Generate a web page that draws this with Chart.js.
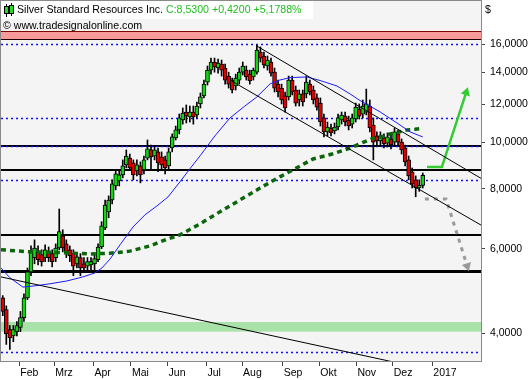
<!DOCTYPE html>
<html>
<head>
<meta charset="utf-8">
<script src="https://cdn.jsdelivr.net/npm/chart.js@4.4.1/dist/chart.umd.min.js"></script>
<style>
  html, body { margin: 0; padding: 0; background: #fff; }
  canvas { display: block; }
</style>
</head>
<body>
<canvas id="chart" width="531" height="380"></canvas>
<script>
// Kopfzeile
const titleText = 'Silver Standard Resources Inc.';
const quoteText = 'C:8,5300 +0,4200 +5,1788%';
const sourceText = '© www.tradesignalonline.com';

// Kerzen (je 2 Handelstage), Index 0 = Mitte Januar 2016
const opens = [4.74, 4.48, 4.07, 3.95, 4.03, 4.11, 4.31, 4.74, 5.37, 5.75,
  5.91, 5.83, 5.75, 5.91, 5.86, 5.75, 6.02, 6.38, 6.14, 5.97,
  5.86, 5.58, 5.75, 5.58, 5.52, 5.55, 5.58, 5.69, 6.05, 6.63,
  7.16, 7.58, 8.11, 8.31, 8.55, 8.97, 9.27, 9.06, 8.72, 8.93,
  8.76, 9.27, 9.64, 9.36, 9.55, 9.32, 9.19, 8.93, 9.73, 10.21,
  10.61, 11.13, 11.56, 11.29, 11.56, 11.40, 12.02, 12.49, 13.35, 14.14,
  14.70, 14.28, 14.56, 14.28, 13.74, 13.48, 13.10, 13.48, 14.00, 14.14,
  13.87, 13.68, 14.00, 15.42, 15.13, 14.42, 14.70, 14.00, 13.22, 12.97,
  12.49, 12.43, 13.48, 12.85, 12.25, 12.61, 12.61, 13.22, 12.85, 12.37,
  12.07, 11.24, 10.51, 10.71, 10.56, 10.76, 11.13, 11.34, 11.13, 10.91,
  11.18, 11.73, 11.45, 11.56, 11.90, 10.86, 10.31, 10.06, 10.21, 9.96,
  10.16, 10.01, 10.41, 10.01, 9.73, 9.19, 8.68, 8.35, 8.03, 8.13];
const highs = [4.79, 4.56, 4.15, 4.15, 4.23, 4.44, 4.83, 5.47, 6.08, 6.26,
  6.08, 5.97, 6.11, 6.05, 5.97, 6.14, 7.26, 6.57, 6.26, 6.08,
  5.97, 5.88, 5.86, 5.75, 5.75, 5.75, 5.83, 6.14, 6.83, 7.58,
  7.73, 8.35, 8.76, 8.76, 9.19, 9.64, 9.45, 9.19, 9.19, 9.10,
  9.36, 10.11, 9.87, 9.82, 9.73, 9.55, 9.36, 9.73, 10.41, 10.81,
  11.45, 11.79, 11.96, 11.90, 11.90, 12.13, 12.67, 13.48, 14.42, 14.98,
  14.98, 14.91, 14.84, 14.56, 14.00, 13.61, 13.87, 14.28, 14.70, 14.42,
  14.14, 14.28, 15.95, 15.80, 15.42, 15.13, 14.98, 14.28, 13.48, 13.22,
  12.73, 13.74, 13.74, 13.10, 12.85, 12.85, 13.74, 13.48, 13.10, 12.61,
  12.37, 11.45, 11.02, 10.91, 10.97, 11.45, 11.56, 11.56, 11.34, 11.45,
  12.07, 12.02, 12.25, 12.91, 12.25, 11.24, 10.51, 10.51, 10.41, 10.46,
  10.41, 10.71, 10.61, 10.16, 9.87, 9.36, 8.84, 8.51, 8.35, 8.63];
const lows = [4.35, 3.79, 3.70, 3.84, 3.95, 4.03, 4.23, 4.70, 5.27, 5.58,
  5.55, 5.52, 5.64, 5.64, 5.50, 5.64, 5.97, 5.91, 5.75, 5.64,
  5.27, 5.47, 5.27, 5.37, 5.37, 5.42, 5.37, 5.64, 6.00, 6.57,
  6.96, 7.44, 7.96, 8.11, 8.43, 8.84, 8.76, 8.35, 8.51, 8.23,
  8.59, 9.19, 8.76, 9.19, 8.68, 8.76, 8.59, 8.80, 9.55, 10.11,
  10.41, 10.91, 10.97, 11.02, 10.91, 11.24, 11.79, 12.37, 13.16, 13.87,
  14.00, 13.94, 13.74, 13.22, 12.97, 12.67, 12.85, 13.22, 13.81, 13.48,
  13.22, 13.48, 13.87, 14.70, 14.28, 14.14, 13.74, 12.73, 12.43, 12.02,
  11.56, 12.25, 12.55, 11.90, 11.90, 11.90, 12.37, 12.55, 12.02, 11.67,
  10.81, 10.26, 10.31, 10.31, 10.41, 10.61, 10.91, 10.81, 10.61, 10.71,
  11.02, 11.18, 11.24, 11.40, 10.51, 9.19, 9.82, 9.87, 9.73, 9.78,
  9.69, 9.87, 9.82, 9.45, 8.93, 8.35, 8.03, 7.70, 7.90, 8.03];
const closes = [4.44, 3.99, 3.91, 4.07, 4.15, 4.31, 4.74, 5.37, 5.91, 6.02,
  5.69, 5.64, 5.97, 5.75, 5.64, 6.02, 6.51, 6.02, 5.91, 5.80,
  5.52, 5.77, 5.47, 5.47, 5.64, 5.64, 5.72, 6.05, 6.70, 7.40,
  7.58, 8.19, 8.59, 8.55, 8.93, 9.36, 8.84, 8.55, 8.97, 8.55,
  9.19, 9.69, 9.32, 9.64, 9.06, 8.97, 8.84, 9.55, 10.26, 10.61,
  11.24, 11.51, 11.34, 11.56, 11.29, 11.90, 12.43, 13.22, 14.14, 14.70,
  14.35, 14.63, 14.14, 13.48, 13.22, 12.85, 13.61, 14.00, 14.42, 13.68,
  13.42, 14.14, 15.57, 14.98, 14.49, 14.84, 13.94, 12.97, 12.73, 12.25,
  11.79, 13.48, 12.73, 12.07, 12.61, 12.13, 13.35, 12.73, 12.25, 11.84,
  11.02, 10.51, 10.76, 10.46, 10.76, 11.24, 11.40, 11.02, 10.81, 11.24,
  11.84, 11.34, 11.90, 12.02, 10.71, 10.01, 10.06, 10.31, 9.92, 10.26,
  9.87, 10.51, 10.01, 9.64, 9.10, 8.51, 8.19, 8.03, 8.13, 8.53];

// Gleitende Durchschnitte (Position in Kerzen-Index, Kurs)
const fastMaX = [-0.5, 2, 5.7, 9.1, 13.4, 18.2, 22.7, 26.1, 28.1, 30.4, 33.2, 36.9, 40.3, 43.7, 46.8, 50.2, 53, 55.9,
  60.1, 64.4, 68.6, 72, 75.7, 78.5, 81.4, 86.2, 89.9, 94.7, 98.4, 101.2, 106.9, 111.7, 115.4, 119];
const fastMaY = [5.47, 5.22, 4.99, 5.02, 5.07, 5.14, 5.24, 5.34, 5.47, 5.71, 6.11, 6.66, 7.06, 7.37, 7.69, 8.27, 8.80, 9.37,
  10.31, 11.24, 11.90, 12.43, 13.23, 13.48, 13.64, 13.68, 13.45, 13.10, 12.61, 12.22, 11.57, 10.97, 10.51, 10.26];
const slowMaX = [-0.5, 7.7, 16.2, 24.7, 30.4, 36.0, 41.7, 46.5, 50.2, 55.9, 61.5, 67.2, 72.9, 78.5, 84.2, 87.9,
  93.3, 98.4, 102.1, 104.9, 107.4, 109.7, 112.0, 114.5, 116.8, 119.0];
const slowMaY = [5.97, 5.91, 5.89, 5.85, 5.87, 5.93, 6.08, 6.28, 6.41, 6.76, 7.16, 7.58, 8.03, 8.47, 8.92, 9.23,
  9.45, 9.72, 10.00, 10.19, 10.27, 10.41, 10.49, 10.61, 10.64, 10.69];

// Trendlinien und Pfeile
const channelTopX = [72.0, 135.5];
const channelTopY = [15.87, 8.41];
const channelBottomX = [64.9, 135.5];
const channelBottomY = [13.41, 6.72];
const longTrendX = [-0.5, 135.5];
const longTrendY = [5.24, 3.18];
const bullArrowX = [120.2, 124.4, 131.3];
const bullArrowY = [8.88, 8.88, 12.7];
const bearArrowX = [119.6, 125.6, 131.6];
const bearArrowY = [7.62, 7.62, 5.52];

// horizontale Marken
const fibLevels = [16.0, 11.25, 9.82, 8.36, 3.66];
const lineLevels = [9.80, 8.76, 6.40];
const supportLevel = 5.38;
const redZone = [16.4, 17.05];
const greenZone = [4.03, 4.22];

// Achsen
const yTicks = [4, 6, 8, 10, 12, 14, 16];
const monthPos = [4.7, 14.6, 25.7, 36.3, 46.7, 57.7, 67.8, 79.3, 89.7, 100.2, 110.5, 121.7];
const monthLabels = ['Feb', 'Mrz', 'Apr', 'Mai', 'Jun', 'Jul', 'Aug', 'Sep', 'Okt', 'Nov', 'Dez', '2017'];

const FONT = '"Liberation Sans", Arial, sans-serif';
Chart.defaults.font.family = FONT;
Chart.defaults.color = '#000';

const pts = (xs, ys) => xs.map((x, i) => ({ x: x, y: ys[i] }));

const levelsPlugin = {
    id: 'levels',
    beforeDatasetsDraw(chart) {
        const { ctx, chartArea: a, scales: { y } } = chart;
        ctx.save();
        ctx.beginPath();
        ctx.rect(a.left, a.top, a.right - a.left, a.bottom - a.top);
        ctx.clip();

        const hline = (v, color, w, dash) => {
            const py = Math.round(y.getPixelForValue(v)) + (w % 2 ? 0.5 : 0);
            ctx.strokeStyle = color;
            ctx.lineWidth = w;
            ctx.setLineDash(dash || []);
            ctx.beginPath();
            ctx.moveTo(a.left, py);
            ctx.lineTo(a.right, py);
            ctx.stroke();
        };

        // Zonen
        let t = y.getPixelForValue(redZone[1]), b = y.getPixelForValue(redZone[0]);
        ctx.fillStyle = '#f89a9a';
        ctx.fillRect(a.left, t, a.right - a.left, b - t);
        hline(redZone[1], '#7a0000', 1);
        hline(redZone[0], '#200000', 1);

        t = y.getPixelForValue(greenZone[1]);
        b = y.getPixelForValue(greenZone[0]);
        ctx.fillStyle = '#a8e2a8';
        ctx.fillRect(a.left, t, a.right - a.left, b - t);

        lineLevels.forEach(v => hline(v, '#000', 2));
        hline(supportLevel, '#000', 3);
        fibLevels.forEach(v => hline(v, '#1010ff', 1.5, [2, 3]));
        ctx.restore();
    }
};

const framePlugin = {
    id: 'frame',
    beforeDraw(chart) {
        const { ctx, chartArea: a } = chart;
        ctx.save();
        ctx.fillStyle = '#fff';
        ctx.fillRect(0, 0, chart.width, chart.height);
        ctx.fillStyle = '#f4f4f4';
        ctx.fillRect(a.left, a.top, a.right - a.left, a.bottom - a.top);
        ctx.restore();
    },
    afterDraw(chart) {
        const { ctx, chartArea: a } = chart;
        ctx.save();
        // Titelbox
        ctx.fillStyle = '#fff';
        ctx.fillRect(a.left, a.top, 312, 18);
        ctx.strokeStyle = '#8a8a8a';
        ctx.lineWidth = 1;
        ctx.strokeRect(a.left - 0.5, a.top - 0.5, a.right - a.left + 1, a.bottom - a.top + 1);

        // kleines Kerzen-Symbol
        ctx.fillStyle = '#000';
        ctx.fillRect(6, 4, 1, 13);
        ctx.fillRect(11, 3, 1, 13);
        ctx.fillStyle = '#22dd22';
        ctx.fillRect(4.5, 6.5, 4, 7);
        ctx.fillRect(9.5, 5.5, 4, 8);
        ctx.strokeStyle = '#000';
        ctx.strokeRect(4.5, 6.5, 4, 7);
        ctx.strokeRect(9.5, 5.5, 4, 8);

        ctx.font = '10.6px ' + FONT;
        ctx.textBaseline = 'middle';
        ctx.fillStyle = '#000';
        ctx.fillText(titleText, 17, 10.5);
        ctx.fillStyle = '#1fbf1f';
        ctx.fillText(quoteText, 166, 10.5);
        ctx.fillStyle = '#000';
        ctx.fillText(sourceText, 3, 26);
        ctx.fillText('$', 485, 10);
        ctx.restore();
    }
};

function lineSet(data, color, width, extra) {
    return Object.assign({
        type: 'line',
        data: data,
        borderColor: color,
        backgroundColor: color,
        borderWidth: width,
        pointRadius: 0,
        tension: 0,
        fill: false,
        order: 0
    }, extra || {});
}

const bodyColors = opens.map((o, i) => closes[i] >= o ? '#10d810' : '#e00000');

new Chart(document.getElementById('chart'), {
    type: 'bar',
    data: {
        datasets: [
            lineSet(pts(channelTopX, channelTopY), '#000', 1),
            lineSet(pts(channelBottomX, channelBottomY), '#000', 1),
            lineSet(pts(longTrendX, longTrendY), '#000', 1),
            lineSet(pts(fastMaX, fastMaY), '#1c1cff', 1),
            lineSet(pts(slowMaX, slowMaY), '#0b660b', 3.5, { borderDash: [5, 4] }),
            lineSet(pts(bullArrowX, bullArrowY), '#33cc33', 2.5, {
                pointRadius: [0, 0, 5.5], pointStyle: 'triangle', pointRotation: [0, 0, 18],
                pointBorderWidth: 0
            }),
            lineSet(pts(bearArrowX, bearArrowY), '#9a9a9a', 3, {
                borderDash: [4, 5],
                pointRadius: [0, 0, 5.5], pointStyle: 'triangle', pointRotation: [0, 0, 162],
                pointBorderWidth: 0
            }),
            {
                type: 'bar',
                data: opens.map((o, i) => ({ x: i, y: [o, closes[i]] })),
                backgroundColor: bodyColors,
                borderColor: '#000',
                borderWidth: 1,
                borderSkipped: false,
                barThickness: 4,
                grouped: false,
                order: 1
            },
            {
                type: 'bar',
                data: lows.map((l, i) => ({ x: i, y: [l, highs[i]] })),
                backgroundColor: '#000',
                borderWidth: 0,
                barThickness: 1,
                grouped: false,
                order: 2
            }
        ]
    },
    options: {
        responsive: false,
        animation: false,
        devicePixelRatio: 1,
        layout: { autoPadding: false, padding: { left: 1, top: 1, right: 0, bottom: 0 } },
        plugins: { legend: { display: false }, tooltip: { enabled: false } },
        scales: {
            x: {
                type: 'linear',
                min: -0.5,
                max: 135.5,
                offset: false,
                border: { display: false },
                grid: { offset: false, drawOnChartArea: false, tickLength: 5, color: '#444' },
                afterBuildTicks: axis => { axis.ticks = monthPos.map(v => ({ value: v })); },
                afterFit: axis => {
                    axis.height = 19;
                    axis.paddingLeft = 0;
                    axis.paddingRight = 0;
                },
                ticks: {
                    autoSkip: false,
                    maxRotation: 0,
                    align: 'start',
                    labelOffset: 1,
                    padding: 1,
                    font: { size: 10.5 },
                    callback: value => monthLabels[monthPos.indexOf(value)]
                }
            },
            y: {
                type: 'logarithmic',
                position: 'right',
                min: 3.5,
                max: 19.7,
                border: { display: false },
                grid: { drawOnChartArea: false, tickLength: 4, color: '#444' },
                afterBuildTicks: axis => { axis.ticks = yTicks.map(v => ({ value: v })); },
                afterFit: axis => {
                    axis.width = 50;
                    axis.paddingTop = 0;
                    axis.paddingBottom = 0;
                },
                ticks: {
                    padding: 5,
                    font: { size: 10.5 },
                    callback: value => value.toFixed(4).replace('.', ',')
                }
            }
        }
    },
    plugins: [framePlugin, levelsPlugin]
});
</script>
</body>
</html>
